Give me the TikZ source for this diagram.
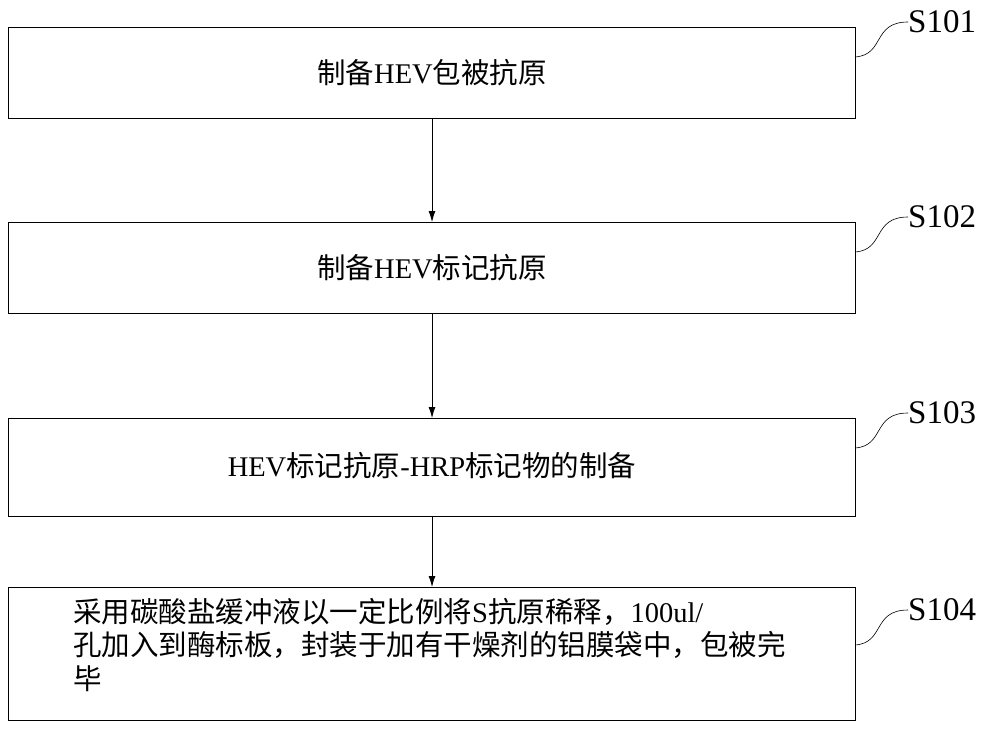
\documentclass[tikz,border=0pt]{standalone}
\usepackage{fontspec}
\setmainfont{Liberation Serif}
\newfontfamily\cjk{Noto Sans CJK SC}
\begin{document}
\begin{tikzpicture}[x=1pt,y=-1pt,
  stepbox/.style={draw,line width=0.8pt,minimum width=847pt,anchor=north west,inner sep=0pt},
  lab/.style={font=\fontsize{33}{36}\selectfont,inner sep=0pt},
  arr/.style={-{Latex[length=11pt,width=7pt]},line width=0.8pt},
  txt/.style={font=\fontsize{28.5}{33.5}\selectfont}]
\usetikzlibrary{arrows.meta}
\useasboundingbox (0,0) rectangle (1000,730);
\node[stepbox,minimum height=91pt] (b1) at (8,27) {};
\node[stepbox,minimum height=91pt] (b2) at (8,222) {};
\node[stepbox,minimum height=98pt] (b3) at (8,418) {};
\node[stepbox,minimum height=133pt] (b4) at (8,587) {};
\node[txt] (t1) at (432,73) {{\cjk 制备}HEV{\cjk 包被抗原}};
\node[txt] (t2) at (432,268) {{\cjk 制备}HEV{\cjk 标记抗原}};
\node[txt] (t3) at (432,466) {HEV{\cjk 标记抗原}-HRP{\cjk 标记物的制备}};
\node[txt,align=left,anchor=north west,inner sep=0pt] (t4) at (73,598) {{\cjk 采用碳酸盐缓冲液以一定比例将}S{\cjk 抗原稀释，}100ul/\\{\cjk 孔加入到酶标板，封装于加有干燥剂的铝膜袋中，包被完}\\{\cjk 毕}};
\draw[arr] (b1.south -| 432,0) -- (b2.north -| 432,0);
\draw[arr] (b2.south -| 432,0) -- (b3.north -| 432,0);
\draw[arr] (b3.south -| 432,0) -- (b4.north -| 432,0);
\foreach \b/\l/\y in {b1/S101/22,b2/S102/217,b3/S103/413,b4/S104/610}{
  \node[lab,anchor=west] (l\b) at (908,\y) {\l};
  \draw[line width=0.6pt] (855,\y+35) .. controls (885,\y+33) and (872,\y) .. (l\b.west);
}
\end{tikzpicture}
\end{document}
